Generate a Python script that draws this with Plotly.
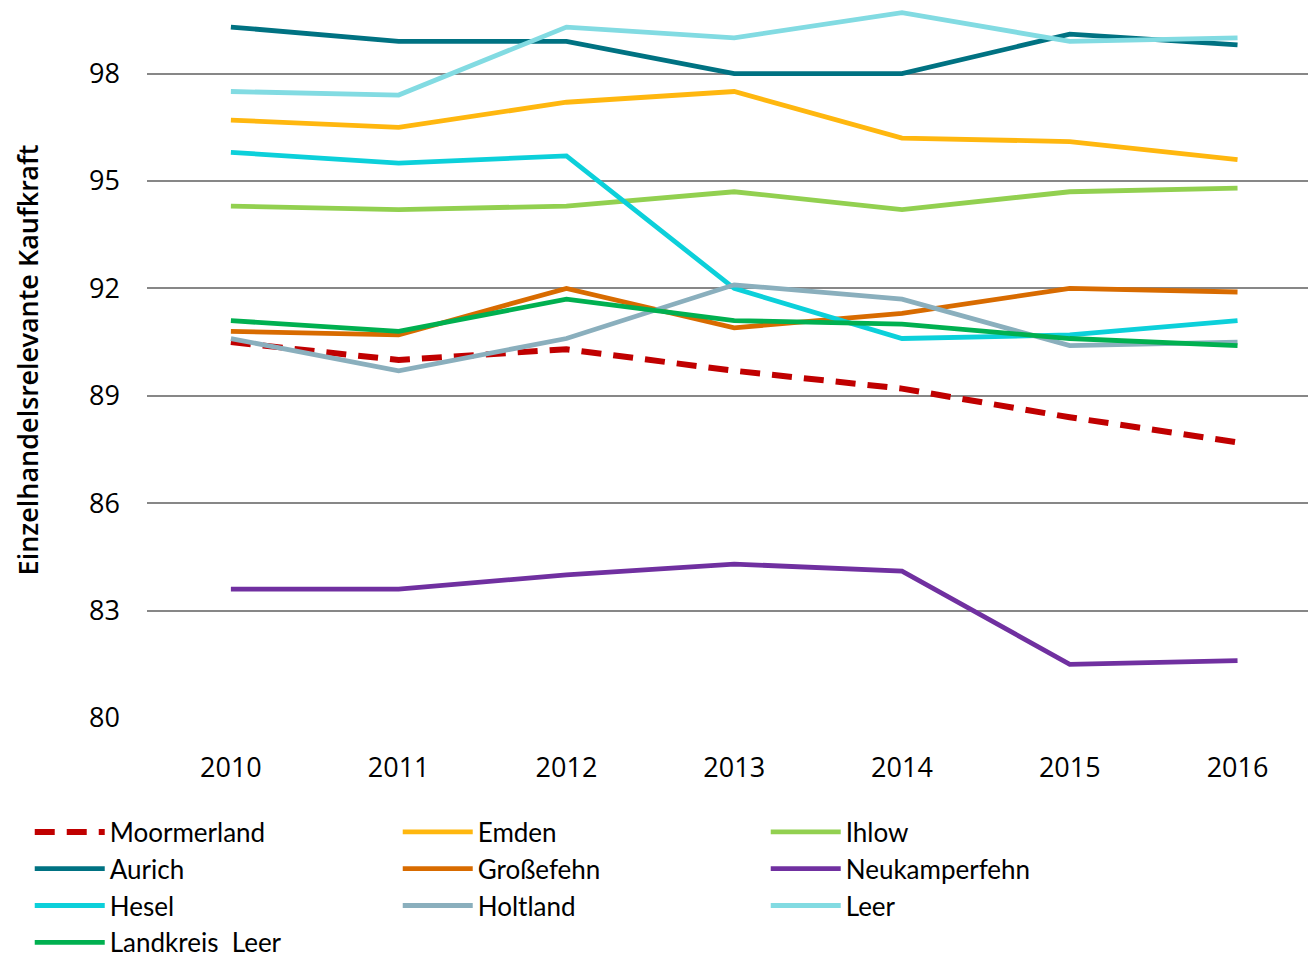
import plotly.graph_objects as go

years = ["2010", "2011", "2012", "2013", "2014", "2015", "2016"]

moormerland = [90.5, 90.0, 90.3, 89.7, 89.2, 88.4, 87.7]
emden = [96.7, 96.5, 97.2, 97.5, 96.2, 96.1, 95.6]
ihlow = [94.3, 94.2, 94.3, 94.7, 94.2, 94.7, 94.8]
aurich = [99.3, 98.9, 98.9, 98.0, 98.0, 99.1, 98.8]
grossefehn = [90.8, 90.7, 92.0, 90.9, 91.3, 92.0, 91.9]
neukamperfehn = [83.6, 83.6, 84.0, 84.3, 84.1, 81.5, 81.6]
hesel = [95.8, 95.5, 95.7, 92.0, 90.6, 90.7, 91.1]
holtland = [90.6, 89.7, 90.6, 92.1, 91.7, 90.4, 90.5]
leer = [97.5, 97.4, 99.3, 99.0, 99.7, 98.9, 99.0]
landkreis_leer = [91.1, 90.8, 91.7, 91.1, 91.0, 90.6, 90.4]

series = [
    ("Moormerland", moormerland, "#C00000", True),
    ("Emden", emden, "#FFB70F", False),
    ("Ihlow", ihlow, "#92D050", False),
    ("Aurich", aurich, "#007282", False),
    ("Großefehn", grossefehn, "#D86B00", False),
    ("Neukamperfehn", neukamperfehn, "#7030A0", False),
    ("Hesel", hesel, "#0CD0DA", False),
    ("Holtland", holtland, "#8AAFBD", False),
    ("Leer", leer, "#82DBE2", False),
    ("Landkreis  Leer", landkreis_leer, "#00B050", False),
]

fig = go.Figure()
for name, vals, color, dashed in series:
    fig.add_trace(go.Scatter(
        x=years, y=vals, name=name, mode="lines",
        line=dict(color=color, width=6 if dashed else 4.8,
                  dash="20px,12px" if dashed else "solid"),
    ))

font_family = "Open Sans, Noto Sans, sans-serif"

fig.update_layout(
    width=1308, height=959,
    margin=dict(l=147, r=0, t=2, b=241, autoexpand=False),
    plot_bgcolor="white", paper_bgcolor="white",
    font=dict(family=font_family, size=27, color="#000000"),
    showlegend=True,
    legend=dict(
        orientation="h",
        x=-0.101, xanchor="left",
        y=-0.1264, yanchor="top",
        entrywidth=283, entrywidthmode="pixels",
        itemwidth=70,
        font=dict(family="Lato, Open Sans, sans-serif", size=26),
        traceorder="normal",
    ),
    xaxis=dict(
        type="category",
        range=[-0.5, 6.42],
        showgrid=False, zeroline=False, showline=False,
        ticks="", tickfont=dict(size=27),
        ticklabelstandoff=31,
    ),
    yaxis=dict(
        range=[80, 100],
        tickvals=[80, 83, 86, 89, 92, 95, 98],
        showgrid=True, gridcolor="#878787", gridwidth=2,
        zeroline=False, showline=False,
        ticks="", tickfont=dict(size=27),
        ticklabelstandoff=26,
        title=dict(text="Einzelhandelsrelevante Kaufkraft",
                   font=dict(size=27, family="Open Sans SemiBold, Open Sans, sans-serif"),
                   standoff=42),
    ),
)

fig.write_html("out.html",
               config={"displayModeBar": False},
               post_script="document.body.style.margin='0';document.body.style.overflow='hidden';")
